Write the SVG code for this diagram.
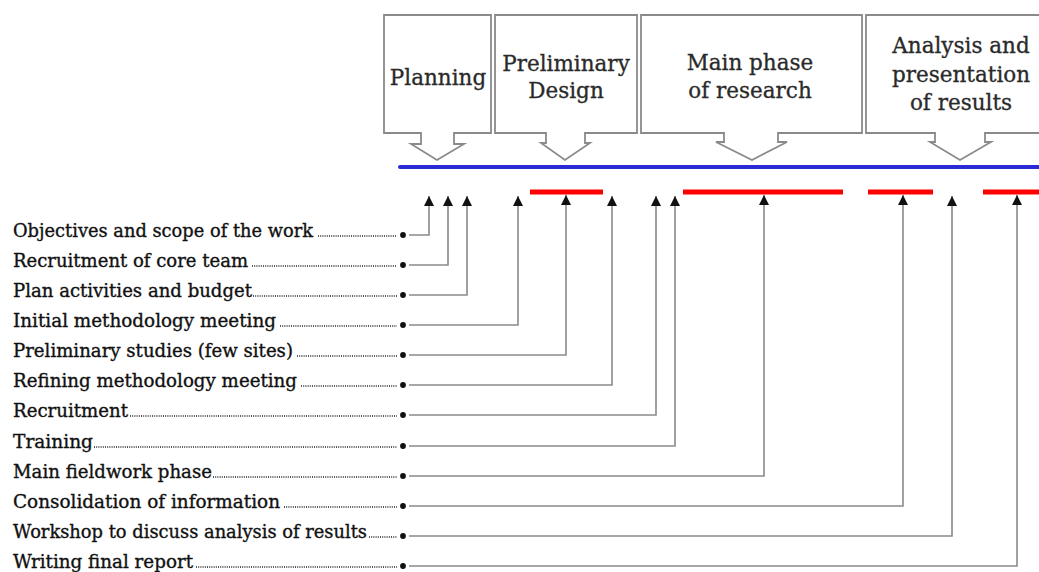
<svg xmlns="http://www.w3.org/2000/svg" width="1039" height="572" viewBox="0 0 1039 572">
<style>
.box{fill:#fff;stroke:#8a8a8a;stroke-width:1.8}
.ttl{font-family:"DejaVu Serif",serif;font-size:21.5px;fill:#2a2a2a;stroke:#2a2a2a;stroke-width:0.3;text-anchor:middle}
.lbl{font-family:"DejaVu Serif",serif;font-size:18px;fill:#111;stroke:#111;stroke-width:0.35}
.lead{stroke:#222;stroke-width:1.5;stroke-dasharray:1 1.2;fill:none}
.con{stroke:#8a8a8a;stroke-width:1.6;fill:none;marker-end:url(#ah)}
.dot{fill:#111}
.bar{stroke:#ff0000;stroke-width:5}
</style>
<defs>
<marker id="ah" viewBox="0 0 10 10" refX="10" refY="5" markerWidth="10" markerHeight="10" markerUnits="userSpaceOnUse" orient="auto">
<path d="M0,0 L10,5 L0,10 z" fill="#111"/>
</marker>
</defs>
<rect width="1039" height="572" fill="#fff"/>

<g id="phase-planning">
<path class="box" d="M384,15 H491 V133 H454 V144 H464 L437,160 L411,144 H421 V133 H384 Z"/>
<text class="ttl" x="438" y="85">Planning</text>
</g>
<g id="phase-preliminary">
<path class="box" d="M495,15 H637 V133 H585 V143 H590 L565,160 L541,143 H546 V133 H495 Z"/>
<text class="ttl" x="566" y="71">Preliminary</text>
<text class="ttl" x="566" y="98">Design</text>
</g>
<g id="phase-main">
<path class="box" d="M641,15 H862 V133 H778 V142 H787 L752,160 L716,142 H724 V133 H641 Z"/>
<text class="ttl" x="750" y="70">Main phase</text>
<text class="ttl" x="750" y="98">of research</text>
</g>
<g id="phase-analysis">
<path class="box" d="M866,15 H1045 V133 H985 V142 H991 L960,160 L930,142 H935 V133 H866 Z"/>
<text class="ttl" x="961" y="53">Analysis and</text>
<text class="ttl" x="961" y="82">presentation</text>
<text class="ttl" x="961" y="110">of results</text>
</g>

<g id="timeline">
<line x1="400" y1="167" x2="1039" y2="167" stroke="#2b2bd6" stroke-width="4" stroke-linecap="round"/>
<line class="bar" x1="530" y1="192" x2="603" y2="192"/>
<line class="bar" x1="683" y1="192" x2="843" y2="192"/>
<line class="bar" x1="868" y1="192" x2="933" y2="192"/>
<line class="bar" x1="983" y1="192" x2="1039" y2="192"/>
</g>

<g id="connectors">
<path class="con" d="M409,235 H429 V196"/>
<path class="con" d="M409,265 H448 V196"/>
<path class="con" d="M409,295 H467 V196"/>
<path class="con" d="M409,325 H518 V196"/>
<path class="con" d="M409,355 H566 V195"/>
<path class="con" d="M409,385 H612 V196"/>
<path class="con" d="M409,415 H656 V196"/>
<path class="con" d="M409,446 H675 V196"/>
<path class="con" d="M409,476 H764 V195"/>
<path class="con" d="M409,506 H903 V195"/>
<path class="con" d="M409,536 H952 V196"/>
<path class="con" d="M409,566 H1017 V195"/>
</g>

<g id="task-1"><text class="lbl" x="13" y="237" textLength="300" lengthAdjust="spacingAndGlyphs">Objectives and scope of the work</text><line class="lead" x1="318" y1="236" x2="397" y2="236"/><circle class="dot" cx="403" cy="235" r="2.9"/></g>
<g id="task-2"><text class="lbl" x="13" y="267" textLength="235" lengthAdjust="spacingAndGlyphs">Recruitment of core team</text><line class="lead" x1="252" y1="266" x2="397" y2="266"/><circle class="dot" cx="403" cy="265" r="2.9"/></g>
<g id="task-3"><text class="lbl" x="13" y="297" textLength="239" lengthAdjust="spacingAndGlyphs">Plan activities and budget</text><line class="lead" x1="253" y1="296" x2="397" y2="296"/><circle class="dot" cx="403" cy="295" r="2.9"/></g>
<g id="task-4"><text class="lbl" x="13" y="327" textLength="263" lengthAdjust="spacingAndGlyphs">Initial methodology meeting</text><line class="lead" x1="280" y1="326" x2="397" y2="326"/><circle class="dot" cx="403" cy="325" r="2.9"/></g>
<g id="task-5"><text class="lbl" x="13" y="357" textLength="280" lengthAdjust="spacingAndGlyphs">Preliminary studies (few sites)</text><line class="lead" x1="297" y1="356" x2="397" y2="356"/><circle class="dot" cx="403" cy="355" r="2.9"/></g>
<g id="task-6"><text class="lbl" x="13" y="387" textLength="284" lengthAdjust="spacingAndGlyphs">Refining methodology meeting</text><line class="lead" x1="301" y1="386" x2="397" y2="386"/><circle class="dot" cx="403" cy="385" r="2.9"/></g>
<g id="task-7"><text class="lbl" x="13" y="417" textLength="115" lengthAdjust="spacingAndGlyphs">Recruitment</text><line class="lead" x1="130" y1="416" x2="397" y2="416"/><circle class="dot" cx="403" cy="415" r="2.9"/></g>
<g id="task-8"><text class="lbl" x="13" y="448" textLength="80" lengthAdjust="spacingAndGlyphs">Training</text><line class="lead" x1="94" y1="447" x2="397" y2="447"/><circle class="dot" cx="403" cy="446" r="2.9"/></g>
<g id="task-9"><text class="lbl" x="13" y="478" textLength="199" lengthAdjust="spacingAndGlyphs">Main fieldwork phase</text><line class="lead" x1="213" y1="477" x2="397" y2="477"/><circle class="dot" cx="403" cy="476" r="2.9"/></g>
<g id="task-10"><text class="lbl" x="13" y="508" textLength="267" lengthAdjust="spacingAndGlyphs">Consolidation of information</text><line class="lead" x1="284" y1="507" x2="397" y2="507"/><circle class="dot" cx="403" cy="506" r="2.9"/></g>
<g id="task-11"><text class="lbl" x="13" y="538" textLength="354" lengthAdjust="spacingAndGlyphs">Workshop to discuss analysis of results</text><line class="lead" x1="369" y1="537" x2="397" y2="537"/><circle class="dot" cx="403" cy="536" r="2.9"/></g>
<g id="task-12"><text class="lbl" x="13" y="568" textLength="180" lengthAdjust="spacingAndGlyphs">Writing final report</text><line class="lead" x1="196" y1="567" x2="397" y2="567"/><circle class="dot" cx="403" cy="566" r="2.9"/></g>
</svg>
